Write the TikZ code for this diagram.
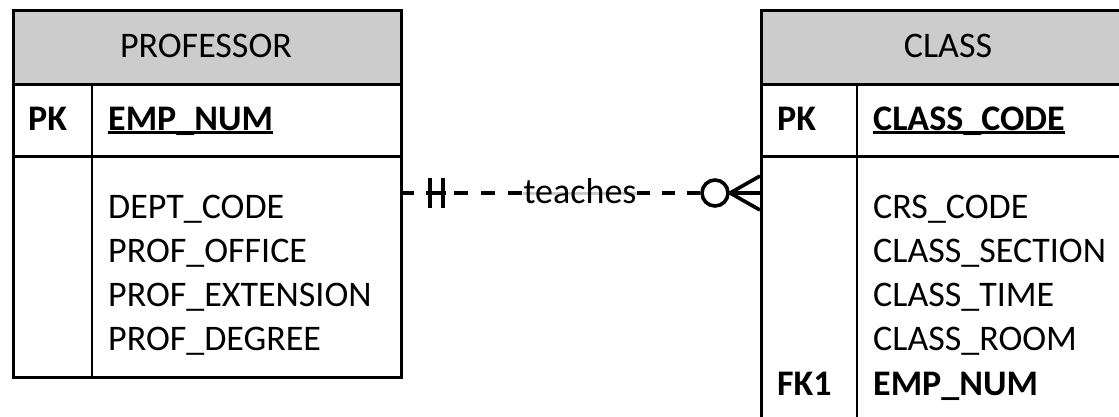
\documentclass[tikz,border=0pt]{standalone}
\usepackage{fontspec}
\setmainfont{Carlito}
\usetikzlibrary{backgrounds}
\definecolor{hdr}{HTML}{CCCCCC}
\newcommand\myul[1]{\setbox0\hbox{#1}\rlap{\rule[-4pt]{\wd0}{2.8pt}}\box0}
\tikzset{
  tbl/.style={draw=black, line width=2.6pt, inner sep=0pt, anchor=north west},
  hdrbox/.style={tbl, fill=hdr},
  txt/.style={anchor=base west, inner sep=0pt, font=\fontsize{36}{44}\selectfont},
  htxt/.style={anchor=base, inner sep=0pt, font=\fontsize{36}{44}\selectfont},
  btxt/.style={txt, font=\fontsize{36}{44}\selectfont\bfseries},
  relA/.style={line width=3.6pt, dash pattern=on 14pt off 13pt},
  relB/.style={line width=3.6pt, dash pattern=on 13pt off 12pt},
  sym/.style={line width=3.6pt},
  divline/.style={line width=2.6pt},
}
\begin{document}
\begin{tikzpicture}[x=1pt,y=-1pt]
\useasboundingbox (0,0) rectangle (1119,416);
\clip (0,0) rectangle (1119,416);
% PROFESSOR table
\node[hdrbox, minimum width=388pt, minimum height=74pt] (profhead) at (12,9) {};
\node[tbl, minimum width=388pt, minimum height=72pt] (profkey) at (12,83) {};
\node[tbl, minimum width=388pt, minimum height=221pt] (profbody) at (12,155) {};
\draw[divline] (92,83) -- (92,376);
\node[htxt] (profname) at (206,57) {PROFESSOR};
\node[btxt] (profpk) at (28,130) {PK};
\node[btxt] (profpkf) at (108,130) {\myul{EMP\_NUM}};
\node[txt] (pf1) at (108,218) {DEPT\_CODE};
\node[txt] (pf2) at (108,262) {PROF\_OFFICE};
\node[txt] (pf3) at (108,306) {PROF\_EXTENSION};
\node[txt] (pf4) at (108,350) {PROF\_DEGREE};
% CLASS table
\node[hdrbox, minimum width=376pt, minimum height=74pt] (clhead) at (760,9) {};
\node[tbl, minimum width=376pt, minimum height=72pt] (clkey) at (760,83) {};
\node[tbl, minimum width=376pt, minimum height=290pt] (clbody) at (760,155) {};
\draw[divline] (857,83) -- (857,445);
\node[htxt] (clname) at (948,57) {CLASS};
\node[btxt] (clpk) at (777,130) {PK};
\node[btxt] (clpkf) at (873,130) {\myul{CLASS\_CODE}};
\node[txt] (cf1) at (873,218) {CRS\_CODE};
\node[txt] (cf2) at (873,262) {CLASS\_SECTION};
\node[txt] (cf3) at (873,306) {CLASS\_TIME};
\node[txt] (cf4) at (873,350) {CLASS\_ROOM};
\node[btxt] (clfk) at (777,395) {FK1};
\node[btxt] (clfkf) at (873,395) {EMP\_NUM};
% relationship
\coordinate (pa) at (400,193);
\coordinate (ca) at (760,193);
\node[htxt] (lbl) at (580,203) {teaches};
\node[draw, circle, line width=3.6pt, minimum size=26pt, inner sep=0pt] (circ) at (715,193) {};
\coordinate (crowtip) at (730,193);
\begin{scope}[on background layer]
  \draw[line width=3pt, black!20] (pa -| lbl.west) -- (pa -| lbl.east);
\end{scope}
\draw[relA] (pa) -- (pa -| lbl.west);
\draw[relB] (pa -| lbl.east) -- (circ.west);
\draw[sym] (430,178) -- (430,208);
\draw[sym] (443,178) -- (443,208);
\draw[sym] (pa) ++(26,0) -- ++(20,0);
\draw[sym] (crowtip) -- (760,176);
\draw[sym] (crowtip) -- (ca);
\draw[sym] (crowtip) -- (760,210);
\end{tikzpicture}
\end{document}
